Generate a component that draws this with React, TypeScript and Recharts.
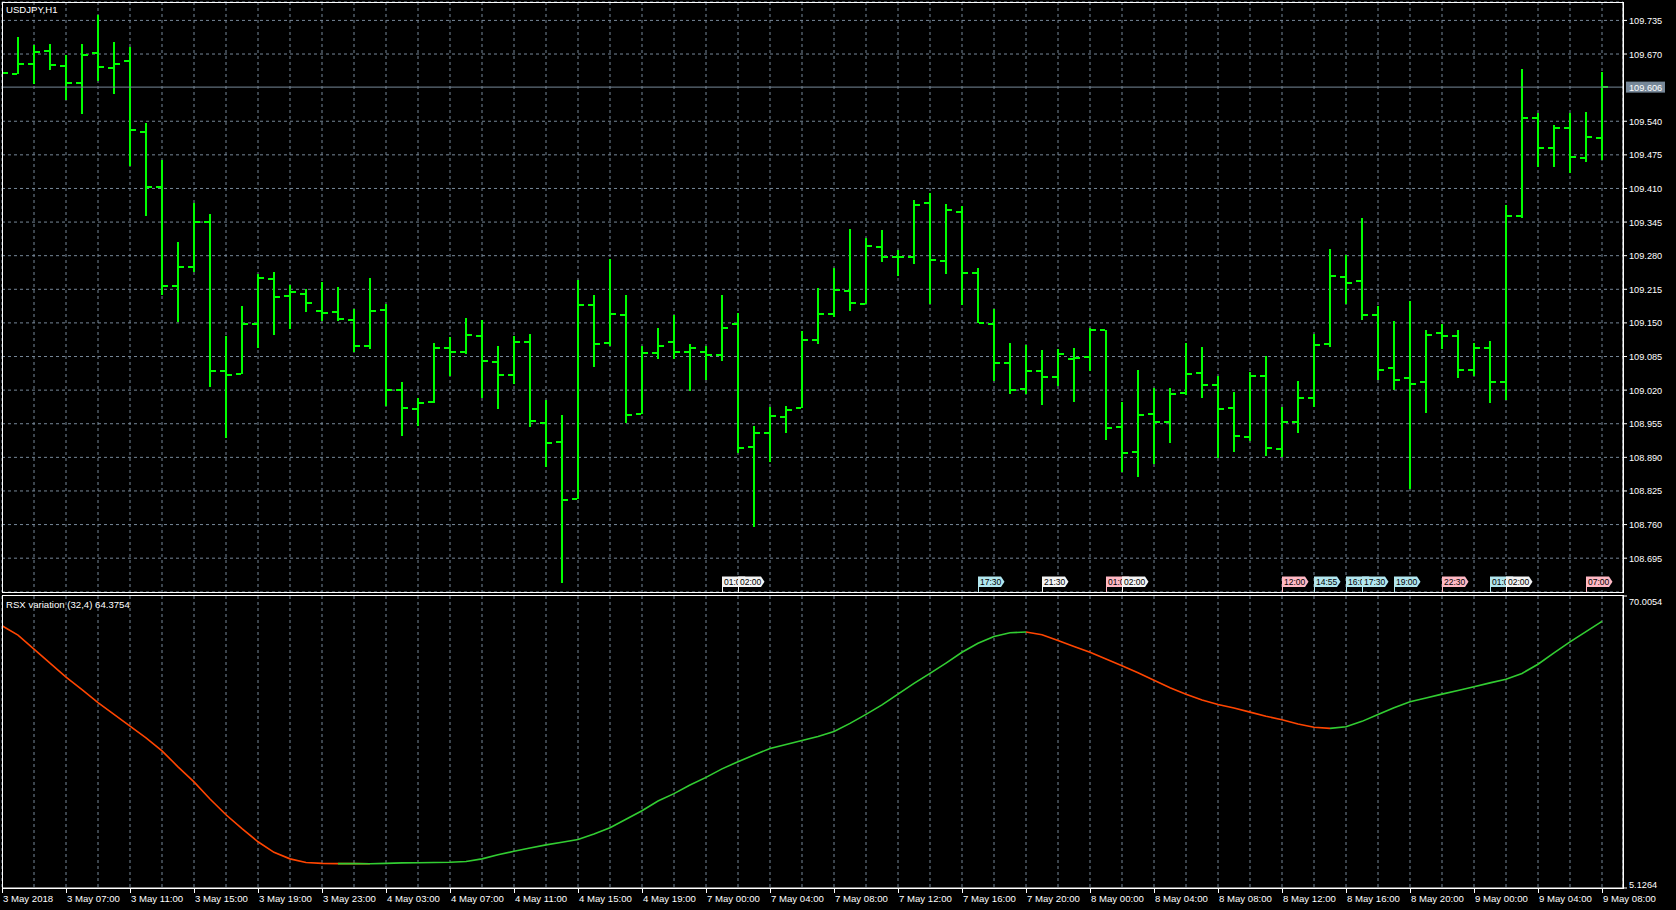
import React from 'react';
import { ComposedChart, Bar, Line, Scatter, XAxis, YAxis, CartesianGrid, ReferenceLine } from 'recharts';

const FONT = '"Liberation Sans", Arial, sans-serif';
const GRID = '#778899';
const BAR_GREEN = '#00ff00';

// USDJPY H1, one bar per hour from 3 May 03:00 to 9 May 08:00
const opens = [
  109.633, 109.631, 109.651, 109.676, 109.647, 109.614, 109.672, 109.643, 109.657, 109.519,
  109.412, 109.222, 109.258, 109.345, 109.057, 109.052, 109.148, 109.235, 109.202, 109.206,
  109.173, 109.171, 109.156, 109.105, 109.175, 109.020, 108.984, 108.997, 109.101, 109.094,
  109.124, 109.074, 109.049, 109.113, 108.956, 108.920, 108.809, 109.184, 109.111, 109.165,
  108.974, 109.092, 109.113, 109.094, 109.094, 109.088, 109.148, 108.910, 108.937, 108.968,
  108.985, 109.117, 109.168, 109.211, 109.186, 109.297, 109.278, 109.278, 109.381, 109.269,
  109.365, 109.246, 109.148, 109.072, 109.023, 109.057, 109.045, 109.081, 109.084, 109.137,
  108.949, 108.900, 108.974, 108.958, 109.014, 109.054, 109.030, 108.986, 108.930, 109.047,
  108.907, 108.958, 109.004, 109.110, 109.239, 109.231, 109.166, 109.062, 109.044, 109.036,
  109.130, 109.124, 109.059, 109.101, 109.036, 109.356, 109.546, 109.488, 109.526, 109.468,
  109.508,
];
const highs = [
  109.640, 109.703, 109.687, 109.689, 109.669, 109.689, 109.745, 109.694, 109.683, 109.536,
  109.465, 109.307, 109.382, 109.360, 109.124, 109.182, 109.244, 109.249, 109.223, 109.215,
  109.229, 109.220, 109.177, 109.237, 109.186, 109.035, 109.004, 109.111, 109.122, 109.159,
  109.155, 109.105, 109.124, 109.128, 109.000, 108.972, 109.233, 109.204, 109.273, 109.204,
  109.105, 109.141, 109.166, 109.109, 109.105, 109.204, 109.169, 108.950, 108.987, 108.989,
  109.134, 109.218, 109.256, 109.331, 109.314, 109.329, 109.291, 109.387, 109.401, 109.379,
  109.377, 109.256, 109.176, 109.112, 109.107, 109.097, 109.099, 109.101, 109.141, 109.137,
  108.998, 109.059, 109.025, 109.025, 109.112, 109.103, 109.047, 109.016, 109.056, 109.086,
  108.987, 109.037, 109.128, 109.293, 109.282, 109.353, 109.182, 109.153, 109.192, 109.136,
  109.148, 109.136, 109.111, 109.115, 109.378, 109.641, 109.556, 109.533, 109.556, 109.557,
  109.635,
];
const lows = [
  109.628, 109.631, 109.611, 109.638, 109.582, 109.553, 109.618, 109.593, 109.452, 109.357,
  109.204, 109.152, 109.248, 109.026, 108.926, 109.050, 109.101, 109.127, 109.137, 109.171,
  109.153, 109.155, 109.094, 109.100, 108.989, 108.931, 108.949, 108.994, 109.047, 109.089,
  109.005, 108.984, 109.032, 108.949, 108.871, 108.647, 108.809, 109.065, 109.105, 108.957,
  108.973, 109.081, 109.081, 109.018, 109.040, 109.077, 108.898, 108.755, 108.881, 108.936,
  108.985, 109.110, 109.161, 109.172, 109.186, 109.267, 109.241, 109.264, 109.187, 109.243,
  109.186, 109.150, 109.036, 109.014, 109.012, 108.990, 109.028, 108.996, 109.057, 108.925,
  108.862, 108.853, 108.878, 108.919, 109.012, 109.004, 108.888, 108.900, 108.922, 108.893,
  108.891, 108.936, 108.987, 109.103, 109.187, 109.155, 109.038, 109.019, 108.829, 108.975,
  109.099, 109.043, 109.047, 108.996, 109.000, 109.352, 109.452, 109.452, 109.439, 109.461,
  109.464,
];
const closes = [
  109.633, 109.651, 109.674, 109.649, 109.614, 109.669, 109.645, 109.651, 109.523, 109.412,
  109.222, 109.258, 109.345, 109.057, 109.049, 109.148, 109.237, 109.200, 109.210, 109.188,
  109.169, 109.158, 109.105, 109.173, 109.020, 108.985, 108.995, 109.101, 109.094, 109.126,
  109.076, 109.049, 109.113, 108.960, 108.918, 108.807, 109.184, 109.109, 109.168, 108.972,
  109.092, 109.105, 109.094, 109.101, 109.088, 109.140, 108.908, 108.937, 108.969, 108.981,
  109.117, 109.168, 109.213, 109.188, 109.298, 109.278, 109.278, 109.378, 109.271, 109.368,
  109.246, 109.150, 109.072, 109.020, 109.057, 109.045, 109.090, 109.083, 109.137, 108.947,
  108.898, 108.972, 108.958, 109.013, 109.052, 109.030, 108.984, 108.931, 109.047, 108.909,
  108.958, 109.005, 109.108, 109.241, 109.228, 109.166, 109.059, 109.040, 109.032, 109.127,
  109.124, 109.059, 109.101, 109.036, 109.356, 109.546, 109.489, 109.526, 109.470, 109.510,
  109.606,
];

// RSX variation (32,4)
const rsxValues = [
  63.4, 61.3, 58.2, 55.1, 52.0, 49.2, 46.3, 43.7, 41.1, 38.5,
  35.6, 32.05, 28.7, 24.9, 21.4, 18.3, 15.4, 13.05, 11.6, 10.8,
  10.6, 10.55, 10.55, 10.5, 10.6, 10.7, 10.75, 10.8, 10.85, 11.0,
  11.6, 12.5, 13.3, 14.0, 14.7, 15.3, 15.9, 17.1, 18.5, 20.4,
  22.3, 24.45, 26.1, 28.0, 29.7, 31.6, 33.2, 34.7, 36.1, 37.0,
  37.9, 38.8, 39.9, 41.7, 43.7, 45.8, 48.2, 50.6, 52.8, 55.1,
  57.5, 59.5, 61.0, 61.85, 62.0, 61.4, 60.1, 58.8, 57.5, 56.0,
  54.5, 52.95, 51.3, 49.6, 48.2, 46.9, 45.9, 45.1, 44.2, 43.3,
  42.5, 41.55, 40.85, 40.6, 40.95, 42.15, 43.7, 45.2, 46.5, 47.35,
  48.2, 49.0, 49.85, 50.7, 51.5, 52.8, 54.85, 57.35, 59.8, 62.1,
  64.3754,
];

// one label every 4 bars
const timeLabels = [
  '3 May 2018', '3 May 07:00', '3 May 11:00', '3 May 15:00', '3 May 19:00', '3 May 23:00',
  '4 May 03:00', '4 May 07:00', '4 May 11:00', '4 May 15:00', '4 May 19:00', '7 May 00:00',
  '7 May 04:00', '7 May 08:00', '7 May 12:00', '7 May 16:00', '7 May 20:00', '8 May 00:00',
  '8 May 04:00', '8 May 08:00', '8 May 12:00', '8 May 16:00', '8 May 20:00', '9 May 00:00',
  '9 May 04:00', '9 May 08:00',
];

const priceTicks = [
  109.735, 109.670, 109.540, 109.475, 109.410, 109.345, 109.280, 109.215,
  109.150, 109.085, 109.020, 108.955, 108.890, 108.825, 108.760, 108.695,
];

// calendar event flags along the bottom of the price pane
const eventBars = [45, 46, 61, 65, 69, 70, 80, 82, 84, 85, 87, 90, 93, 94, 99];
const eventTexts = ['01:00', '02:00', '17:30', '21:30', '01:00', '02:00', '12:00', '14:55', '16:00', '17:30', '19:00', '22:30', '01:00', '02:00', '07:00'];
const eventKinds = ['w', 'w', 'c', 'w', 'p', 'w', 'p', 'c', 'c', 'c', 'c', 'p', 'c', 'w', 'p'];
const eventColors: Record<string, string> = { w: '#f4f4f4', c: '#b2e6ee', p: '#ffb8c4' };

const PRICE_MIN = 108.6296;
const PRICE_MAX = 109.7706;
const RSX_MIN = 5.1264;
const RSX_MAX = 70.0054;
const X_MAX = 101.3125;

const bars = opens.map((o, i) => ({ i, open: o, high: highs[i], low: lows[i], close: closes[i] }));
const gridTicks = bars.filter((b) => b.i % 2 === 0).map((b) => b.i);
const eventRows = eventBars.map((b, k) => ({ i: b, y: PRICE_MIN, text: eventTexts[k], kind: eventKinds[k] }));

const rsxRows = rsxValues.map((v, i) => {
  const prev = rsxValues[i - 1];
  const next = rsxValues[i + 1];
  const upIn = prev !== undefined && v >= prev;
  const upOut = next !== undefined && next >= v;
  const downIn = prev !== undefined && v < prev;
  const downOut = next !== undefined && next < v;
  return { i, up: upIn || upOut ? v : null, down: downIn || downOut ? v : null };
});

const OhlcShape = (props: any) => {
  const { x, y, width, height, payload } = props;
  if (x == null || !payload) return null;
  const cx = Math.round(x + width / 2);
  const range = payload.high - payload.low;
  const py = (v: number) => (range > 0 ? y + ((payload.high - v) / range) * height : y);
  const yo = Math.round(py(payload.open));
  const yc = Math.round(py(payload.close));
  return (
    <g fill={BAR_GREEN}>
      <rect x={cx - 1} y={Math.round(y)} width={2} height={Math.max(Math.round(height), 2)} />
      <rect x={cx - 6} y={yo - 1} width={5} height={2} />
      <rect x={cx + 1} y={yc - 1} width={5} height={2} />
    </g>
  );
};

const EventShape = (props: any) => {
  const { cx, cy, payload } = props;
  if (cx == null || !payload) return null;
  const fill = eventColors[payload.kind];
  const left = Math.round(cx);
  const top = cy - 15.5;
  const h = 10.5;
  const w = 23;
  return (
    <g>
      <line x1={left + 0.5} x2={left + 0.5} y1={top + h} y2={cy} stroke={fill} />
      <path d={`M${left},${top} h${w} l3.5,${h / 2} l-3.5,${h / 2} h${-w} z`} fill={fill} />
      <text x={left + 2} y={top + 8.2} fontSize={8.5} fontFamily={FONT} fill="#000">{payload.text}</text>
    </g>
  );
};

const PriceTick = (props: any) => {
  const { x, y, payload } = props;
  return (
    <text x={x} y={y + 3.5} fontSize={9.2} fontFamily={FONT} fill="#fff">{payload.value.toFixed(3)}</text>
  );
};

const RsxTick = (props: any) => {
  const { x, y, payload } = props;
  const top = payload.value >= RSX_MAX;
  return (
    <text x={x} y={top ? y + 8.5 : y - 0.5} fontSize={9.2} fontFamily={FONT} fill="#fff">{payload.value.toFixed(4)}</text>
  );
};

// grid ticks come every 2 bars, a time label every 4
const TimeTick = (props: any) => {
  const { x, y, payload } = props;
  if (payload.value % 4 !== 0) return null;
  const label = timeLabels[payload.value / 4];
  if (!label) return null;
  return (
    <g>
      <line x1={x + 0.5} x2={x + 0.5} y1={y} y2={y + 5} stroke="#fff" />
      <text x={x + 1} y={y + 13.5} fontSize={9.6} fontFamily={FONT} fill="#fff">{label}</text>
    </g>
  );
};

const BidLabel = (props: any) => {
  const vb = props.viewBox;
  if (!vb) return null;
  const x0 = vb.x + vb.width + 3;
  const yMid = vb.y;
  return (
    <g>
      <rect x={x0} y={yMid - 5.5} width={39} height={11} fill={GRID} />
      <text x={x0 + 3} y={yMid + 3.5} fontSize={9.2} fontFamily={FONT} fill="#fff">{closes[closes.length - 1].toFixed(3)}</text>
    </g>
  );
};

export default function App() {
  const lastRsx = rsxValues[rsxValues.length - 1];
  return (
    <div style={{ position: 'fixed', left: 0, top: 0, width: 1676, height: 910, background: '#000', overflow: 'hidden', fontFamily: FONT }}>
      {/* price pane */}
      <div style={{ position: 'absolute', left: 0, top: 0 }}>
        <ComposedChart width={1676} height={594} data={bars} margin={{ top: 2, right: 0, bottom: 2, left: 2 }}>
          <CartesianGrid stroke={GRID} strokeDasharray="3 3" />
          <XAxis dataKey="i" type="number" domain={[0, X_MAX]} ticks={gridTicks} allowDataOverflow hide />
          <YAxis
            orientation="right"
            width={53}
            domain={[PRICE_MIN, PRICE_MAX]}
            ticks={priceTicks}
            interval={0}
            allowDataOverflow
            tickSize={4}
            tickMargin={2}
            tickLine={{ stroke: '#fff' }}
            axisLine={{ stroke: '#fff' }}
            tick={<PriceTick />}
          />
          <ReferenceLine y={closes[closes.length - 1]} stroke={GRID} label={BidLabel} />
          <Bar dataKey={(d: any) => [d.low, d.high]} barSize={12} shape={<OhlcShape />} isAnimationActive={false} />
          <Scatter data={eventRows} dataKey="y" shape={<EventShape />} isAnimationActive={false} />
        </ComposedChart>
      </div>

      {/* RSX pane */}
      <div style={{ position: 'absolute', left: 0, top: 595 }}>
        <ComposedChart width={1676} height={315} data={rsxRows} margin={{ top: 1, right: 0, bottom: 0, left: 2 }}>
          <CartesianGrid stroke={GRID} strokeDasharray="3 3" horizontal={false} />
          <XAxis
            dataKey="i"
            type="number"
            domain={[0, X_MAX]}
            ticks={gridTicks}
            interval={0}
            allowDataOverflow
            height={22}
            tickSize={0}
            tickMargin={0}
            tickLine={false}
            axisLine={{ stroke: '#fff' }}
            tick={<TimeTick />}
          />
          <YAxis
            orientation="right"
            width={53}
            domain={[RSX_MIN, RSX_MAX]}
            ticks={[RSX_MAX, RSX_MIN]}
            interval={0}
            allowDataOverflow
            tickSize={4}
            tickMargin={2}
            tickLine={{ stroke: '#fff' }}
            axisLine={{ stroke: '#fff' }}
            tick={<RsxTick />}
          />
          <Line dataKey="down" stroke="#ff4500" strokeWidth={1.6} dot={false} connectNulls={false} isAnimationActive={false} />
          <Line dataKey="up" stroke="#32cd32" strokeWidth={1.6} dot={false} connectNulls={false} isAnimationActive={false} />
        </ComposedChart>
      </div>

      {/* pane frames and captions */}
      <svg width={1676} height={910} style={{ position: 'absolute', left: 0, top: 0, pointerEvents: 'none' }}>
        <rect x={2.5} y={2.5} width={1621} height={590} fill="none" stroke="#fff" />
        <rect x={2.5} y={595.5} width={1621} height={293} fill="none" stroke="#fff" />
        <text x={6} y={12.5} fontSize={9.6} fontFamily={FONT} fill="#fff">USDJPY,H1</text>
        <text x={6} y={607.5} fontSize={9.6} fontFamily={FONT} fill="#fff">{`RSX variation (32,4) ${lastRsx.toFixed(4)}`}</text>
      </svg>
    </div>
  );
}
